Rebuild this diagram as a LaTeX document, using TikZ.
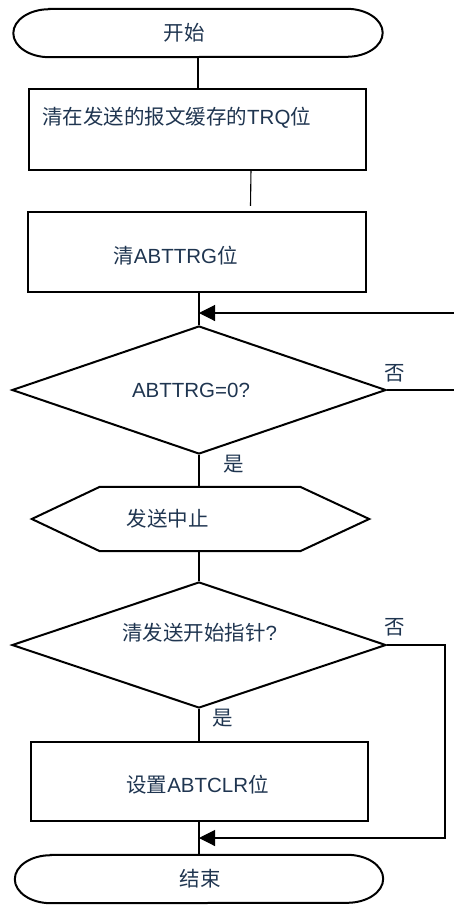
\documentclass[tikz,border=0pt]{standalone}
\usepackage{fontspec}
\setmainfont{Liberation Sans}
\newfontfamily\cjk{Noto Sans CJK SC}
\usetikzlibrary{shapes.geometric,arrows.meta}
\definecolor{txt}{HTML}{1F3550}
\newcommand{\zh}[1]{{\cjk #1}}
\begin{document}
\begin{tikzpicture}[x=1pt,y=-1pt,
  shapebox/.style={rectangle,draw,line width=2.2pt,inner sep=0pt},
  ghost/.style={rectangle,draw=none,inner sep=0pt},
  decide/.style={diamond,draw,line width=2pt,inner sep=0pt},
  termline/.style={line width=2pt},
  conn/.style={line width=1.1pt},
  lbl/.style={text=txt,font=\fontsize{20.5}{24}\selectfont,inner sep=0pt},
  arr/.style={conn,-{Triangle[length=16pt,width=16pt]}}]
\useasboundingbox (0,0) rectangle (454,905);
% shapes
\node[ghost,minimum width=369pt,minimum height=48pt] (start) at (198,33) {};
\draw[termline] ([xshift=36pt]start.north west) -- ([xshift=-36pt]start.north east)
  arc[start angle=90,end angle=-90,x radius=36pt,y radius=24pt]
  -- ([xshift=36pt]start.south west)
  arc[start angle=270,end angle=90,x radius=36pt,y radius=24pt] -- cycle;
\node[shapebox,minimum width=337pt,minimum height=81pt] (box1) at (197.5,129.5) {};
\node[shapebox,minimum width=338pt,minimum height=80pt] (box2) at (197,252) {};
\node[decide,minimum width=374pt,minimum height=128pt] (d1) at (199,390) {};
\node[ghost,minimum width=337pt,minimum height=64pt] (hex) at (200.5,519) {};
\draw[line width=2pt] (hex.west) -- ([xshift=68pt]hex.north west) -- ([xshift=-69pt]hex.north east)
  -- (hex.east) -- ([xshift=-69pt]hex.south east) -- ([xshift=68pt]hex.south west) -- cycle;
\node[decide,minimum width=374pt,minimum height=126pt] (d2) at (199,645) {};
\node[shapebox,minimum width=337pt,minimum height=79pt] (box3) at (199.5,781.5) {};
\node[ghost,minimum width=368pt,minimum height=48pt] (end) at (199,879) {};
\draw[termline] ([xshift=36pt]end.north west) -- ([xshift=-36pt]end.north east)
  arc[start angle=90,end angle=-90,x radius=36pt,y radius=24pt]
  -- ([xshift=36pt]end.south west)
  arc[start angle=270,end angle=90,x radius=36pt,y radius=24pt] -- cycle;
% texts
\node[lbl] (t0) at (184,33) {\zh{开始}};
\node[lbl,anchor=west] (t1) at (42,118) {\zh{清在发送的报文缓存的}TRQ\zh{位}};
\node[lbl] (t2) at (175.5,256) {\zh{清}ABTTRG\zh{位}};
\node[lbl] (t3) at (191,390) {ABTTRG=0?};
\node[lbl] (t4) at (167.5,519) {\zh{发送中止}};
\node[lbl] (t5) at (199.5,633) {\zh{清发送开始指针}?};
\node[lbl] (t6) at (197.5,785) {\zh{设置}ABTCLR\zh{位}};
\node[lbl] (t7) at (200,879) {\zh{结束}};
\node[lbl] (no1) at (395,373) {\zh{否}};
\node[lbl] (yes1) at (234,464) {\zh{是}};
\node[lbl] (no2) at (395,627) {\zh{否}};
\node[lbl] (yes2) at (223,718) {\zh{是}};
% free ends
\coordinate (r1) at (454,313);
\coordinate (r2) at (445,838);
% connectors
\draw[conn] (start.south) -- (start.south |- box1.north);
\draw[conn] ([xshift=53.5pt,yshift=2pt]box1.south) -- ([xshift=53.5pt,yshift=5pt]box2.north);
\draw[conn] (box2.south -| d1.north) -- (d1.north);
\draw[arr] (r1) -- (r1 -| d1.north);
\draw[conn] (d1.east) -- (d1.east -| r1);
\draw[conn] (d1.south) -- (d1.south |- hex.north);
\draw[conn] (hex.south -| d2.north) -- (d2.north);
\draw[conn] (d2.south) -- (d2.south |- box3.north);
\draw[conn] (box3.south -| end.north) -- (end.north);
\draw[arr] (d2.east) -- (d2.east -| r2) -- (r2) -- (r2 -| end.north);
\end{tikzpicture}
\end{document}
